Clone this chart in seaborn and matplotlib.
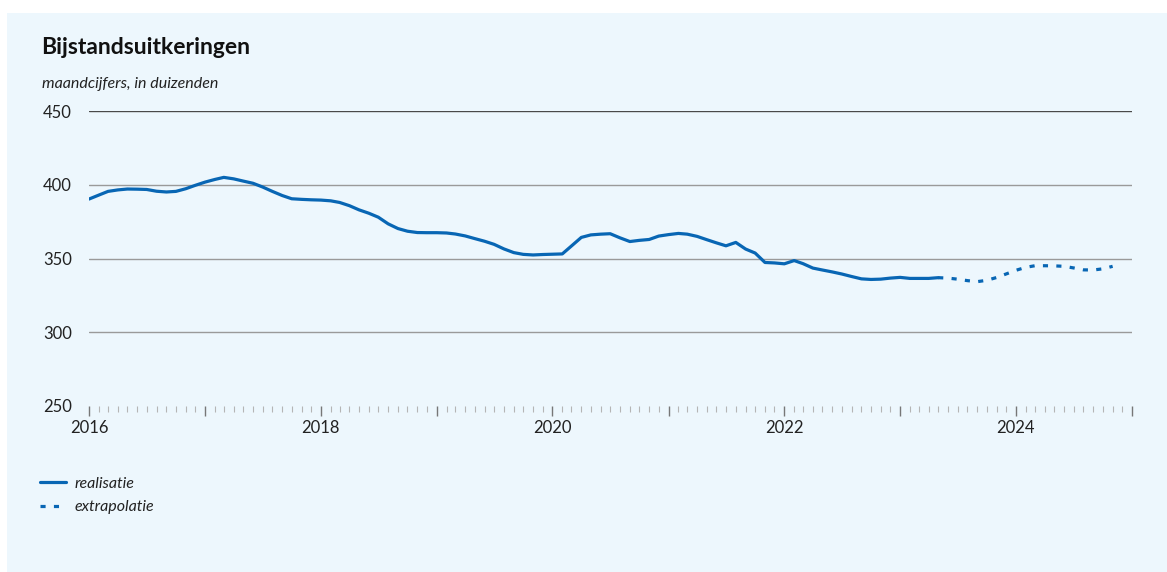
import seaborn as sns
import pandas as pd
import matplotlib.pyplot as plt
import matplotlib.dates as mdates
import matplotlib.transforms as mtransforms
from matplotlib.patches import Rectangle

# maandcijfers bijstandsuitkeringen (x 1000), vanaf januari 2016
realisatie = [
    390.3, 393.0, 395.5, 396.5, 397.1, 397.0, 396.8, 395.6, 395.1, 395.5, 397.3, 399.6,
    401.8, 403.6, 405.0, 404.0, 402.5, 401.0, 398.5, 395.5, 392.7, 390.5, 390.1, 389.8,
    389.6, 389.1, 388.0, 385.8, 383.0, 380.7, 378.0, 373.5, 370.3, 368.5, 367.6, 367.5,
    367.5, 367.3, 366.6, 365.3, 363.5, 361.7, 359.6, 356.5, 354.0, 352.8, 352.4, 352.7,
    352.9, 353.1, 358.5, 364.3, 366.0, 366.5, 366.8, 364.0, 361.5, 362.3, 362.9, 365.2,
    366.2, 367.0, 366.5, 365.0, 362.8, 360.6, 358.6, 360.9, 356.4, 353.7, 347.3, 347.0,
    346.4, 348.6, 346.5, 343.5, 342.2, 340.9, 339.5, 337.8, 336.2, 335.8, 336.0, 336.7,
    337.2, 336.5, 336.5, 336.5, 337.0,
]
# extrapolatie vanaf mei 2023
extrapolatie = [
    337.0, 336.7, 336.0, 335.0, 334.3, 335.2, 337.1, 339.5, 342.0, 344.0, 345.1, 345.1,
    345.0, 344.7, 343.6, 342.3, 342.2, 343.0, 344.7,
]

start = pd.Timestamp('2016-01-01')
real_dates = pd.date_range(start, periods=len(realisatie), freq='MS')
extra_dates = pd.date_range(real_dates[-1], periods=len(extrapolatie), freq='MS')

df_real = pd.DataFrame({'datum': real_dates, 'waarde': realisatie})
df_extra = pd.DataFrame({'datum': extra_dates, 'waarde': extrapolatie})

blue = '#0866B4'
panel = '#EDF7FD'

sns.set_style('white')
plt.rcParams['font.family'] = ['Lato', 'DejaVu Sans']

fig = plt.figure(figsize=(11.67, 5.72), dpi=100)
fig.patch.set_facecolor('white')
fig.patches.append(Rectangle((7 / 1167, 0), 1 - 7 / 1167, 1 - 13 / 572,
                             transform=fig.transFigure, facecolor=panel,
                             edgecolor='none', zorder=-10))

ax = fig.add_axes([89 / 1167, 1 - 406 / 572, (1132 - 89) / 1167, (406 - 111) / 572])
ax.set_facecolor('none')

sns.lineplot(data=df_real, x='datum', y='waarde', ax=ax, color=blue, linewidth=2.3,
             label='realisatie')
sns.lineplot(data=df_extra, x='datum', y='waarde', ax=ax, color=blue, linewidth=2.3,
             linestyle=(0, (1.6, 2.6)), label='extrapolatie')

ax.set_ylim(250, 450)
ax.set_xlim(pd.Timestamp('2016-01-01'), pd.Timestamp('2025-01-01'))
ax.set_yticks([250, 300, 350, 400, 450])

# horizontale lijnen
for v in [300, 350, 400]:
    ax.axhline(v, color='#9a9a9a', linewidth=1.0, zorder=0)
ax.axhline(450, color='#4a4a4a', linewidth=1.0, zorder=0)

for s in ax.spines.values():
    s.set_visible(False)

ax.xaxis.set_major_locator(mdates.YearLocator(1))
ax.xaxis.set_minor_locator(mdates.MonthLocator())
ax.xaxis.set_major_formatter(plt.FuncFormatter(
    lambda x, pos: str(mdates.num2date(x).year) if mdates.num2date(x).year % 2 == 0 else ''))
ax.tick_params(axis='x', which='major', length=7, width=1.0, color='#777777',
               labelsize=12, labelcolor='#222222', pad=3, direction='out', bottom=True)
ax.tick_params(axis='x', which='minor', length=4, width=0.8, color='#b5b5b5',
               direction='out', bottom=True)
ax.tick_params(axis='y', length=0, labelsize=12, labelcolor='#222222', pad=0)
for lbl in ax.get_yticklabels():
    lbl.set_horizontalalignment('left')
    lbl.set_transform(mtransforms.blended_transform_factory(fig.transFigure, ax.transData))
    lbl.set_x(43 / 1167)
ax.set_xlabel('')
ax.set_ylabel('')

fig.text(41 / 1167, 1 - 48 / 572, 'Bijstandsuitkeringen', fontsize=16.5, fontweight='bold',
         color='#111111', va='center', ha='left')
fig.text(42 / 1167, 1 - 84 / 572, 'maandcijfers, in duizenden', fontsize=11.5,
         style='italic', color='#222222', va='center', ha='left')

ax.get_legend().remove()
handles, labels = ax.get_legend_handles_labels()
leg = fig.legend(handles, labels, loc='upper left',
                 bbox_to_anchor=(26 / 1167, 1 - 462 / 572), frameon=False,
                 handlelength=1.6, handletextpad=0.55, labelspacing=0.6,
                 prop={'size': 11.5, 'style': 'italic'})
for t in leg.get_texts():
    t.set_color('#222222')

fig.savefig('out.png', dpi=100, facecolor='white')
